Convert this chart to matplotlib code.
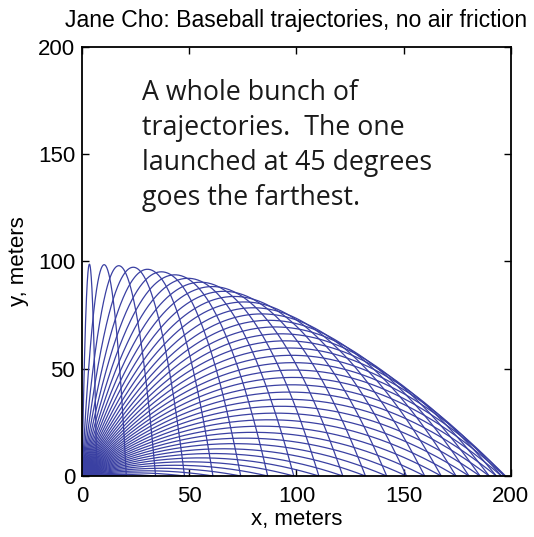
import numpy as np
import matplotlib
matplotlib.use('Agg')
import matplotlib.pyplot as plt

# launch angles (degrees) and launch speed
angles_deg = [1, 3, 5, 7, 9, 11, 13, 15, 17, 19, 21, 23, 25, 27, 29, 31, 33, 35,
              37, 39, 41, 43, 45, 47, 49, 51, 53, 55, 57, 59, 61, 63, 65, 67, 69,
              71, 73, 75, 77, 79, 81, 83, 85, 87, 89]
v0 = 44.0   # m/s
g = 9.8     # m/s^2

x_ticks = [0, 50, 100, 150, 200]
y_ticks = [0, 50, 100, 150, 200]

plt.rcParams['font.family'] = ['Liberation Sans', 'DejaVu Sans']

fig = plt.figure(figsize=(5.34, 5.37), dpi=100)
ax = fig.add_axes([0.1536, 0.1136, 0.803, 0.799])

for a in angles_deg:
    th = np.radians(a)
    t_end = 2 * v0 * np.sin(th) / g
    t = np.linspace(0, t_end, 300)
    x = v0 * np.cos(th) * t
    y = v0 * np.sin(th) * t - 0.5 * g * t**2
    ax.plot(x, y, color='#3a40a2', lw=0.9)

ax.set_xlim(0, 200)
ax.set_ylim(0, 200)
ax.set_xticks(x_ticks)
ax.set_yticks(y_ticks)
ax.tick_params(direction='in', top=True, right=True, labelsize=16, length=5, width=1)
ax.tick_params(axis='x', pad=7)
ax.tick_params(axis='y', pad=5)
for s in ax.spines.values():
    s.set_linewidth(1.3)

ax.set_xlabel('x, meters', fontsize=16, labelpad=2)
ax.set_ylabel('y, meters', fontsize=16, labelpad=6)
ax.set_title('Jane Cho: Baseball trajectories, no air friction', fontsize=16.6, pad=14)

ax.text(0.141, 0.925, 'A whole bunch of\ntrajectories.  The one\nlaunched at 45 degrees\ngoes the farthest.',
        transform=ax.transAxes, fontsize=19.3, family='Open Sans', va='top', ha='left',
        color='#1a1a1a', linespacing=1.33)

fig.savefig('out.png', dpi=100)
